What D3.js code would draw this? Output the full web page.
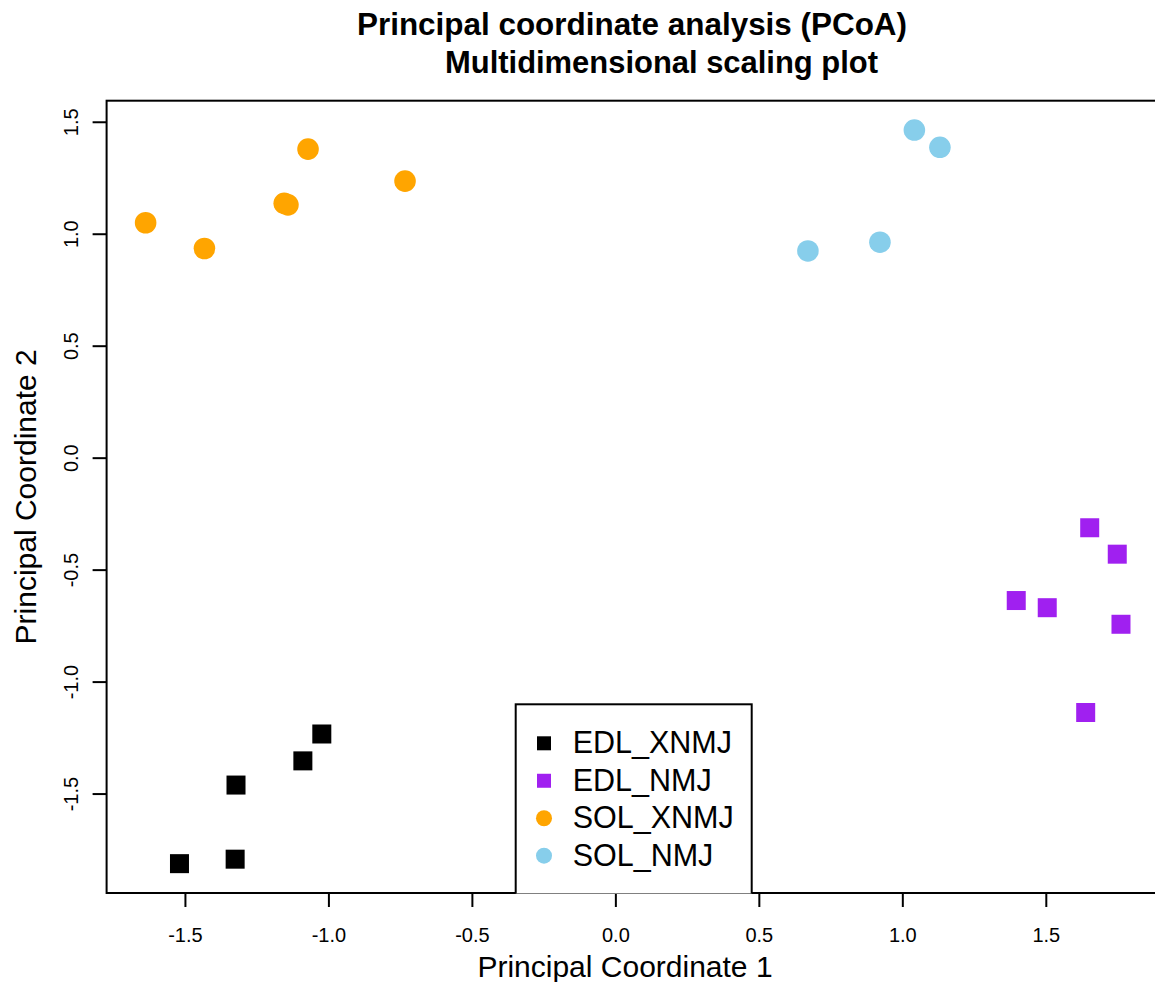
<!DOCTYPE html>
<html>
<head>
<meta charset="utf-8">
<script src="https://cdn.jsdelivr.net/npm/d3@7"></script>
<style>
  html, body { margin: 0; padding: 0; background: #fff; }
  svg { display: block; font-family: "Liberation Sans", Arial, Helvetica, sans-serif; }
</style>
</head>
<body>
<svg id="chart" width="1155" height="982"></svg>
<script>
// ---- data ----
const groupNames = ["EDL_XNMJ", "EDL_NMJ", "SOL_XNMJ", "SOL_NMJ"];
const groupShapes = ["square", "square", "circle", "circle"];
const groupColors = ["#000000", "#A020F0", "#FFA500", "#87CEEB"];

const edlXnmjX = [-1.023, -1.089, -1.322, -1.325, -1.519];
const edlXnmjY = [-1.234, -1.354, -1.462, -1.793, -1.813];

const edlNmjX = [1.653, 1.749, 1.397, 1.505, 1.762, 1.639];
const edlNmjY = [-0.313, -0.431, -0.638, -0.670, -0.744, -1.138];

const solXnmjX = [-1.637, -1.432, -1.154, -1.141, -1.071, -0.733];
const solXnmjY = [1.049, 0.934, 1.136, 1.129, 1.378, 1.235];

const solNmjX = [1.042, 1.131, 0.922, 0.671];
const solNmjY = [1.463, 1.386, 0.962, 0.923];

const xTicks = [-1.5, -1.0, -0.5, 0.0, 0.5, 1.0, 1.5];
const yTicks = [-1.5, -1.0, -0.5, 0.0, 0.5, 1.0, 1.5];

const titleLines = ["Principal coordinate analysis (PCoA)", "Multidimensional scaling plot"];
const xLabel = "Principal Coordinate 1";
const yLabel = "Principal Coordinate 2";

// ---- build ----
const groupsX = [edlXnmjX, edlNmjX, solXnmjX, solNmjX];
const groupsY = [edlXnmjY, edlNmjY, solXnmjY, solNmjY];
const points = [];
groupsX.forEach((xs, g) => xs.forEach((x, i) => points.push({ g, x, y: groupsY[g][i] })));

const plot = { left: 106.6, right: 1160, top: 100.7, bottom: 893 };

function padded(vals) {
  const [a, b] = d3.extent(vals);
  const p = (b - a) * 0.04;
  return [a - p, b + p];
}
const x = d3.scaleLinear().domain(padded(points.map(d => d.x))).range([plot.left, plot.right]);
const y = d3.scaleLinear().domain(padded(points.map(d => d.y))).range([plot.bottom, plot.top]);

const fmt = v => d3.format(".1f")(v).replace("\u2212", "-");

const svg = d3.select("#chart");

svg.append("defs").append("clipPath").attr("id", "plotclip")
  .append("rect")
  .attr("x", plot.left).attr("y", plot.top)
  .attr("width", plot.right - plot.left).attr("height", plot.bottom - plot.top + 0.5);

// title
const titleCenters = [632, 661.5];
const titleBaselines = [35, 72.5];
const titleLengths = [550, 433];
titleLines.forEach((t, i) => {
  svg.append("text")
    .attr("x", titleCenters[i]).attr("y", titleBaselines[i])
    .attr("text-anchor", "middle")
    .attr("font-size", 31).attr("font-weight", "bold")
    .attr("textLength", titleLengths[i]).attr("lengthAdjust", "spacingAndGlyphs")
    .text(t);
});

// x axis
const xAxis = d3.axisBottom(x).tickValues(xTicks).tickFormat(fmt)
  .tickSize(14).tickSizeOuter(0).tickPadding(20.5);
const gx = svg.append("g").attr("transform", `translate(0,${plot.bottom})`).call(xAxis);
gx.select(".domain").remove();
gx.selectAll(".tick line").attr("stroke", "#000").attr("stroke-width", 2);
gx.selectAll(".tick text").attr("font-size", 20).attr("fill", "#000")
  .attr("font-family", "'Liberation Sans', Arial, sans-serif");

// y axis (R style: rotated labels)
const yAxis = d3.axisLeft(y).tickValues(yTicks).tickFormat(fmt)
  .tickSize(14).tickSizeOuter(0);
const gy = svg.append("g").attr("transform", `translate(${plot.left},0)`).call(yAxis);
gy.select(".domain").remove();
gy.selectAll(".tick line").attr("stroke", "#000").attr("stroke-width", 2);
gy.selectAll(".tick text")
  .attr("font-size", 20).attr("fill", "#000")
  .attr("font-family", "'Liberation Sans', Arial, sans-serif")
  .attr("x", -28.4).attr("y", 0).attr("dy", null)
  .attr("text-anchor", "middle")
  .attr("transform", "rotate(-90,-28.4,0)");

// axis titles
svg.append("text")
  .attr("x", 625).attr("y", 977)
  .attr("text-anchor", "middle").attr("font-size", 30)
  .text(xLabel);
const yMid = (plot.top + plot.bottom) / 2;
svg.append("text")
  .attr("x", 36).attr("y", yMid)
  .attr("text-anchor", "middle").attr("font-size", 30)
  .attr("transform", `rotate(-90,36,${yMid})`)
  .text(yLabel);

// points
const gp = svg.append("g").attr("clip-path", "url(#plotclip)");
const sq = 19, rad = 10.8;
points.forEach(d => {
  const c = groupColors[d.g];
  if (groupShapes[d.g] === "square") {
    gp.append("rect")
      .attr("x", x(d.x) - sq / 2).attr("y", y(d.y) - sq / 2)
      .attr("width", sq).attr("height", sq).attr("fill", c);
  } else {
    gp.append("circle")
      .attr("cx", x(d.x)).attr("cy", y(d.y)).attr("r", rad).attr("fill", c);
  }
});

// box
svg.append("rect")
  .attr("x", plot.left).attr("y", plot.top)
  .attr("width", plot.right - plot.left).attr("height", plot.bottom - plot.top)
  .attr("fill", "none").attr("stroke", "#000").attr("stroke-width", 2);

// legend (clipped to plot region, covering bottom border like R)
const lg = svg.append("g").attr("clip-path", "url(#plotclip)");
const leg = { left: 515.7, right: 751.7, top: 704.3 };
lg.append("rect")
  .attr("x", leg.left).attr("y", leg.top)
  .attr("width", leg.right - leg.left).attr("height", 220)
  .attr("fill", "#fff").attr("stroke", "#000").attr("stroke-width", 2);
const rowY = d3.scalePoint().domain(groupNames).range([743.3, 855.7]);
groupNames.forEach((name, g) => {
  const cy = rowY(name);
  if (groupShapes[g] === "square") {
    lg.append("rect").attr("x", 544 - 7).attr("y", cy - 7)
      .attr("width", 14).attr("height", 14).attr("fill", groupColors[g]);
  } else {
    lg.append("circle").attr("cx", 544).attr("cy", cy).attr("r", 8).attr("fill", groupColors[g]);
  }
  lg.append("text").attr("x", 572.7).attr("y", cy + 10)
    .attr("font-size", 30.5).text(name);
});
</script>
</body>
</html>
